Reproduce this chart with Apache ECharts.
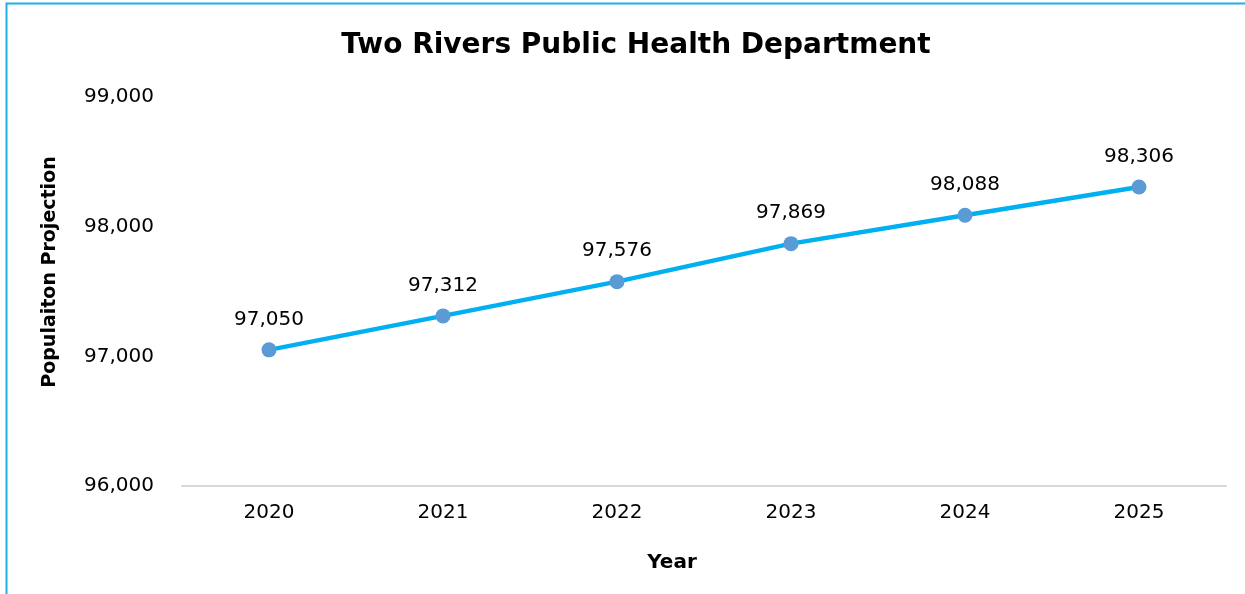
<!DOCTYPE html>
<html><head><meta charset="utf-8">
<script src="https://cdn.jsdelivr.net/npm/echarts@6/dist/echarts.min.js"></script>
<style>html,body{margin:0;padding:0;background:#fff}#c{width:1245px;height:594px}</style>
</head><body><div id="c"></div>
<script>
const years = ['2020','2021','2022','2023','2024','2025'];
const population = [97050, 97312, 97576, 97869, 98088, 98306];
const title = 'Two Rivers Public Health Department';
const yName = 'Populaiton Projection';
const xName = 'Year';
const FONT = 'DejaVu Sans';
const chart = echarts.init(document.getElementById('c'));
chart.setOption({
  animation:false,
  title:{text:title,left:631,top:27,textAlign:'center',textStyle:{fontFamily:FONT,fontWeight:'bold',fontSize:28,color:'#000'}},
  grid:{left:182,right:19,top:97,bottom:108,containLabel:false},
  xAxis:{type:'category',data:years,boundaryGap:true,
    axisLine:{lineStyle:{color:'#d9d9d9',width:2}},axisTick:{show:false},
    axisLabel:{fontFamily:FONT,fontSize:20,color:'#000',margin:17}},
  yAxis:{type:'value',min:96000,max:99000,interval:1000,
    axisLine:{show:false},axisTick:{show:false},splitLine:{show:false},
    axisLabel:{fontFamily:FONT,fontSize:20,color:'#000',margin:28,formatter:v=>v.toLocaleString('en-US')}},
  series:[{type:'line',data:population,symbol:'circle',symbolSize:15,
    lineStyle:{color:'#00b0f0',width:4.5},itemStyle:{color:'#5b9bd5'},
    label:{show:true,position:'top',distance:13,fontFamily:FONT,fontSize:20,color:'#000',formatter:p=>p.value.toLocaleString('en-US')}}],
  graphic:[
    {type:'polyline',shape:{points:[[6.5,700],[6.5,3.5],[1300,3.5]]},style:{fill:null,stroke:'#1fb0e8',lineWidth:2},silent:true},
    {type:'text',x:50,y:272,rotation:Math.PI/2,style:{text:yName,fontFamily:FONT,fontWeight:'bold',fontSize:19,fill:'#000',textAlign:'center',textVerticalAlign:'middle'}},
    {type:'text',x:672,y:563,style:{text:xName,fontFamily:FONT,fontWeight:'bold',fontSize:20,fill:'#000',textAlign:'center',textVerticalAlign:'middle'}}
  ]
});
</script></body></html>
